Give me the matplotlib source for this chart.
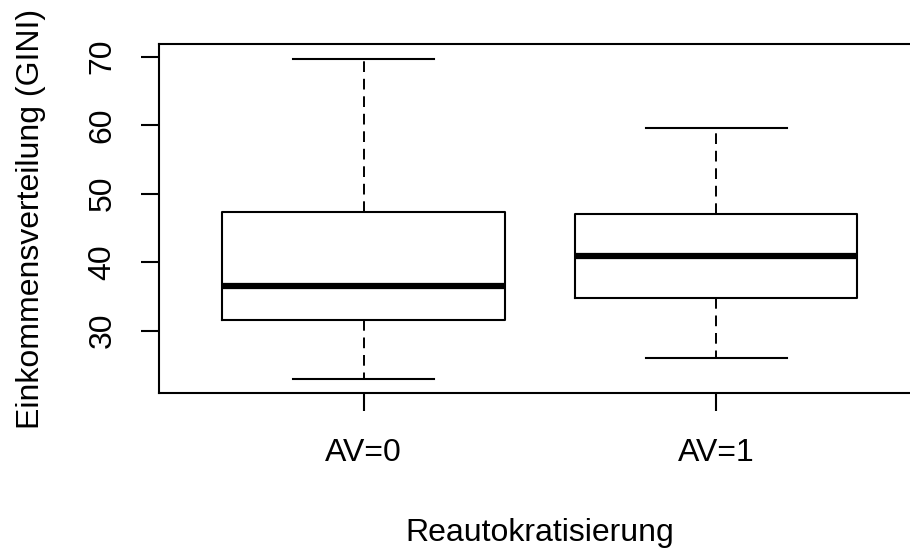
import matplotlib
matplotlib.use("Agg")
import matplotlib.pyplot as plt

# Five-number summaries of GINI per group (R-style boxplot stats)
groups = ["AV=0", "AV=1"]
whisker_low = [22.9, 26.0]
q1 = [31.5, 34.7]
median = [36.5, 40.9]
q3 = [47.3, 47.0]
whisker_high = [69.7, 59.6]
yticks = [30, 40, 50, 60, 70]

plt.rcParams['font.family'] = ['Liberation Sans', 'DejaVu Sans']

fig = plt.figure(figsize=(9.1, 5.49), dpi=100)
ax = fig.add_axes([0.1747, 0.2836, 0.8373, 0.6354])

stats = []
for i, g in enumerate(groups):
    stats.append({
        "label": g, "whislo": whisker_low[i], "q1": q1[i], "med": median[i],
        "q3": q3[i], "whishi": whisker_high[i], "fliers": [],
    })

lw = 1.5
fs = 23
ax.bxp(
    stats, positions=[1, 2], widths=0.8, showfliers=False,
    boxprops=dict(color="black", linewidth=lw),
    medianprops=dict(color="black", linewidth=4.5, solid_capstyle="butt"),
    whiskerprops=dict(color="black", linewidth=1.4, linestyle=(0, (5.5, 3.5))),
    capprops=dict(color="black", linewidth=lw),
    capwidths=0.4,
)

ax.set_xlim(0.42, 2.58)
ax.set_ylim(20.86, 71.78)
ax.set_yticks(yticks)
ax.set_yticklabels([str(t) for t in yticks], rotation=90, va="center")

for s in ax.spines.values():
    s.set_linewidth(lw)

ax.tick_params(axis="both", length=13, width=lw, labelsize=fs, color="black")
ax.tick_params(axis="x", pad=19)
ax.tick_params(axis="y", pad=17)

ax.set_xlabel("Reautokratisierung", fontsize=fs, labelpad=36)
ax.set_ylabel("Einkommensverteilung (GINI)", fontsize=fs, labelpad=30)

fig.savefig("out.png", dpi=100)
